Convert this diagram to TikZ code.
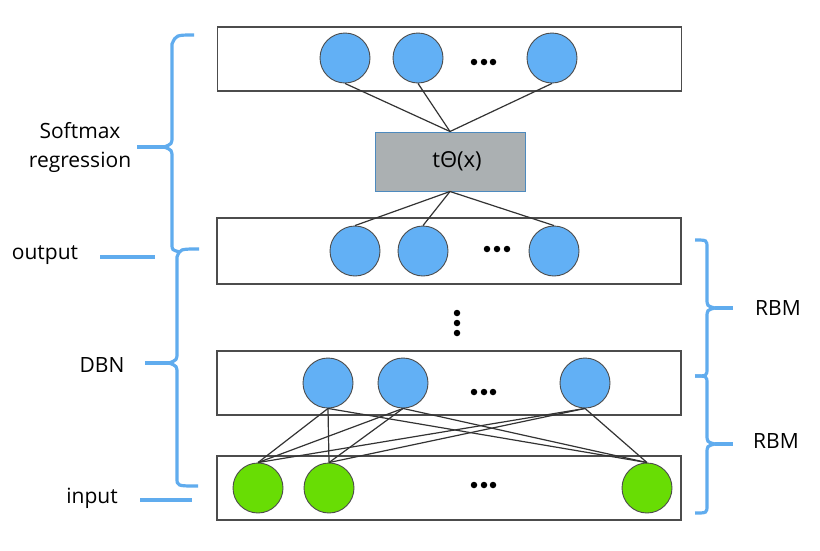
\documentclass[tikz,border=0pt]{standalone}
\usepackage{fontspec}
\setmainfont{Open Sans}
\definecolor{azul}{RGB}{98,176,245}
\definecolor{verde}{RGB}{104,221,4}
\definecolor{azulchave}{RGB}{96,172,238}
\definecolor{cinza}{RGB}{171,176,178}
\begin{document}
\begin{tikzpicture}[x=1pt,y=-1pt]
\tikzstyle{camada}=[rectangle, draw=black!70, line width=1.3pt, minimum width=464pt, minimum height=64pt, inner sep=0]
\tikzstyle{neuronio}=[circle, draw=black!70, line width=0.9pt, fill=azul, minimum size=50pt, inner sep=0]
\tikzstyle{visivel}=[neuronio, fill=verde]
\tikzstyle{ponto}=[circle, minimum size=6.5pt, inner sep=0, fill=black]
\tikzstyle{ligacao}=[draw=black!80, line width=1.2pt]
\tikzstyle{chave}=[draw=azulchave, line width=3.2pt]
\tikzstyle{rotulo}=[font=\fontsize{21}{29}\selectfont, text=black]
\useasboundingbox[fill=white](0,0) rectangle (820,550);
\node[camada] (topo) at(449.5,59){};
\node[camada, minimum height=66pt] (saida) at(449,251){};
\node[camada] (oculta) at(449,383){};
\node[camada] (entrada) at(449,488){};
\node[rectangle, draw=azulchave!80!black, line width=1pt, fill=cinza, minimum width=150pt, minimum height=59pt, font=\fontsize{22}{26}\selectfont] (theta) at(450,161.5){\hspace{14pt}tΘ(x)};
\node[neuronio] (s1) at(345,58){};
\node[neuronio] (s2) at(418,58){};
\node[neuronio] (s3) at(552,58){};
\node[neuronio] (o1) at(355,251){};
\node[neuronio] (o2) at(423,251){};
\node[neuronio] (o3) at(554,251){};
\node[neuronio] (h1) at(328,383){};
\node[neuronio] (h2) at(403,383){};
\node[neuronio] (h3) at(585,383){};
\node[visivel] (e1) at(258,488){};
\node[visivel] (e2) at(329,488){};
\node[visivel] (e3) at(647,488){};
\node[ponto] (ds1) at(474,62){};
\node[ponto] (ds2) at(484,62){};
\node[ponto] (ds3) at(493,62){};
\node[ponto] (do1) at(487,249){};
\node[ponto] (do2) at(497,249){};
\node[ponto] (do3) at(507,249){};
\node[ponto] (dh1) at(474,392){};
\node[ponto] (dh2) at(484,392){};
\node[ponto] (dh3) at(493,392){};
\node[ponto] (de1) at(474,485){};
\node[ponto] (de2) at(484,485){};
\node[ponto] (de3) at(493,485){};
\node[ponto] (dv1) at(457,313){};
\node[ponto] (dv2) at(457,323){};
\node[ponto] (dv3) at(457,333){};
\draw[ligacao] (s1.south)--(theta.north);
\draw[ligacao] (s2.south)--(theta.north);
\draw[ligacao] (s3.south)--(theta.north);
\draw[ligacao] (theta.south)--(o1.north);
\draw[ligacao] (theta.south)--(o2.north);
\draw[ligacao] (theta.south)--(o3.north);
\draw[ligacao] (h1.south)--(e1.north);
\draw[ligacao] (h1.south)--(e2.north);
\draw[ligacao] (h1.south)--(e3.north);
\draw[ligacao] (h2.south)--(e1.north);
\draw[ligacao] (h2.south)--(e2.north);
\draw[ligacao] (h2.south)--(e3.north);
\draw[ligacao] (h3.south)--(e1.north);
\draw[ligacao] (h3.south)--(e2.north);
\draw[ligacao] (h3.south)--(e3.north);
\draw[chave] (194,35) .. controls (176,35) .. (172,44) -- (172,136) .. controls (172,144) .. (164,147) .. controls (172,150) .. (172,158) -- (172,244) .. controls (172,250) .. (180,252);
\draw[chave] (137,147)--(164,147);
\draw[chave] (199,249) .. controls (180,249) .. (177,257) -- (177,352) .. controls (177,360) .. (169,363) .. controls (177,366) .. (177,374) -- (177,478) .. controls (177,486) .. (198,486);
\draw[chave] (145,363)--(169,363);
\draw[chave] (695,240) .. controls (707,240) .. (707,248) -- (707,298) .. controls (707,306) .. (715,308) .. controls (707,310) .. (707,318) -- (707,368) .. controls (707,376) .. (695,376);
\draw[chave] (715,308)--(733,308);
\draw[chave] (695,376) .. controls (707,376) .. (707,384) -- (707,434) .. controls (707,442) .. (715,444) .. controls (707,446) .. (707,454) -- (707,505) .. controls (707,513) .. (695,513);
\draw[chave] (715,444)--(733,444);
\draw[chave] (100,257)--(155,257);
\draw[chave] (140,500)--(192,500);
\node[rotulo, align=center] (softmax) at(80,147){Softmax\\regression};
\node[rotulo] (output) at(45,255){output};
\node[rotulo] (dbn) at(102,365){DBN};
\node[rotulo] (input) at(92,498){input};
\node[rotulo] (rbm1) at(778,308){RBM};
\node[rotulo] (rbm2) at(776,441){RBM};
\end{tikzpicture}
\end{document}
